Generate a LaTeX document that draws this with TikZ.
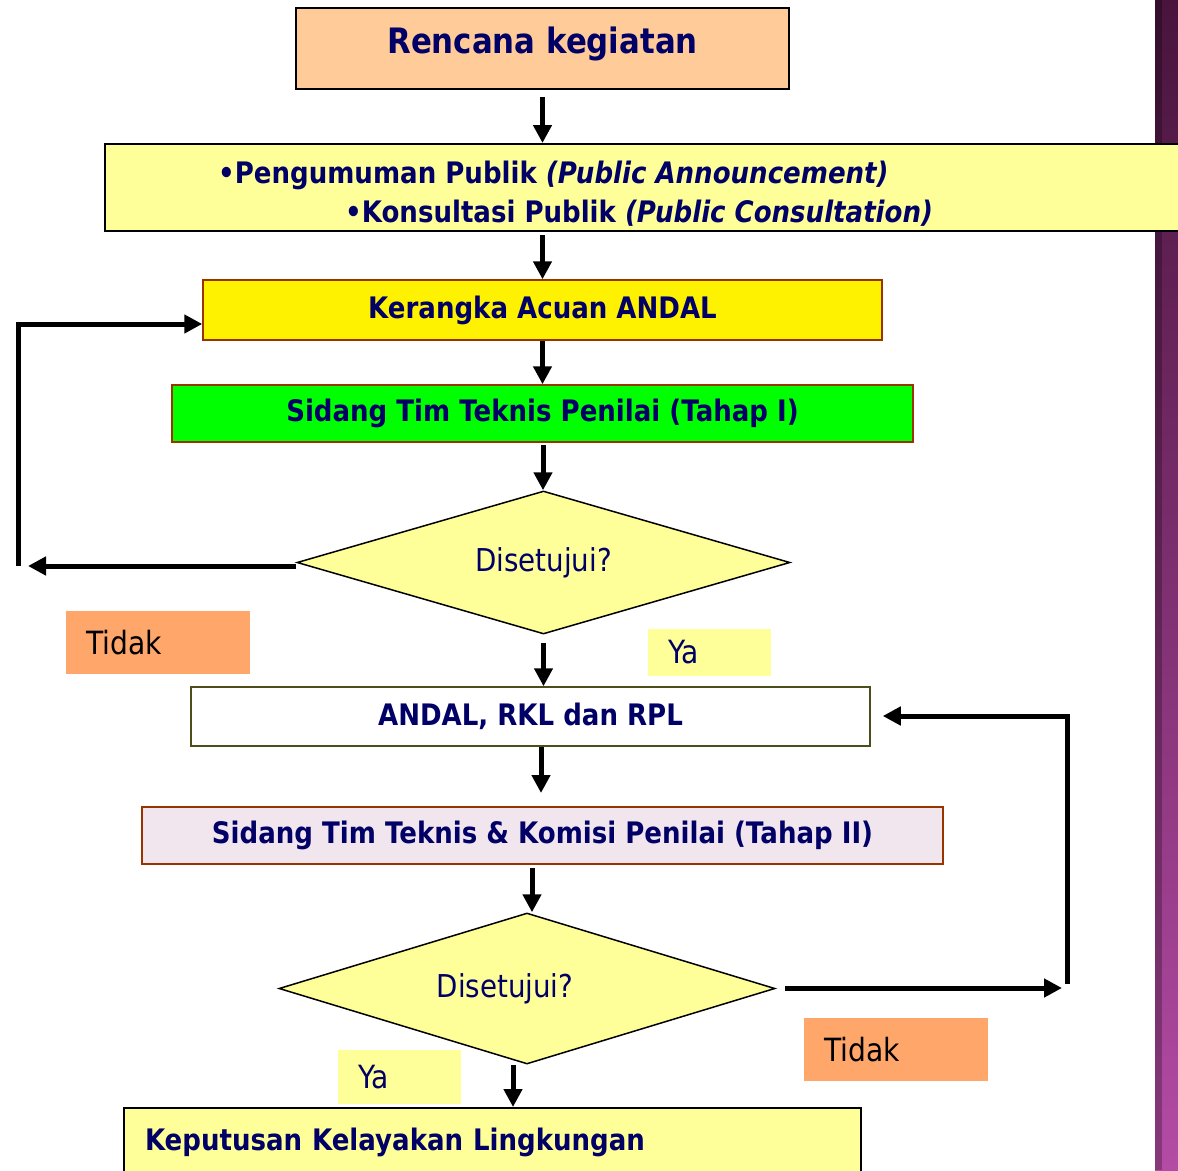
\documentclass[tikz,border=0pt]{standalone}
\usepackage{fontspec}
\setmainfont[FakeStretch=0.88]{DejaVu Sans}
\usetikzlibrary{arrows.meta,shapes.geometric}
\definecolor{navy}{RGB}{0,0,102}
\definecolor{peach}{RGB}{255,204,153}
\definecolor{lightyel}{RGB}{255,255,153}
\definecolor{brownline}{RGB}{153,51,0}
\definecolor{oliveline}{RGB}{77,77,26}
\definecolor{blush}{RGB}{242,230,238}
\definecolor{salmon}{RGB}{255,166,107}
\definecolor{stripTop}{RGB}{72,20,60}
\definecolor{stripBot}{RGB}{180,75,165}
\begin{document}
\begin{tikzpicture}[x=1pt,y=-1pt,
  box/.style={draw, line width=1.5pt, text=navy, inner sep=0pt,
    font=\bfseries\fontsize{29.6}{34}\selectfont},
  dia/.style={diamond, aspect=3.5, draw=black, line width=1.5pt, fill=lightyel, text=navy, inner sep=0pt,
    font=\fontsize{31.5}{34}\selectfont},
  lab/.style={fill=#1, inner sep=0pt, inner xsep=20pt, align=left,
    font=\fontsize{32}{34}\selectfont},
  arr/.style={line width=5pt, -{Triangle[length=18pt,width=18pt]}},
  seg/.style={line width=5pt}]
\clip (0,0) rectangle (1178,1170);
\fill[white] (0,0) rectangle (1178,1170);
% right strip
\shade[top color=stripTop, bottom color=stripBot] (1155,0) rectangle (1178,1170);
\fill[black, opacity=0.25] (1155,0) rectangle (1162,1170);

% boxes
\node[box, fill=peach, minimum width=493pt, minimum height=81pt, text height=25pt, text depth=16pt,
  font=\bfseries\fontsize{35}{40}\selectfont] (b1) at (542.5,48.5) {Rencana kegiatan};
\node[box, fill=lightyel, minimum width=1085pt, minimum height=87pt, line width=2pt] (b2) at (647.5,187.5) {};
\node[text=navy, anchor=west, inner sep=0pt, font=\bfseries\fontsize{29.6}{34}\selectfont] (b2a) at (218,175)
  {•Pengumuman Publik \textit{(Public Announcement)}};
\node[text=navy, anchor=west, inner sep=0pt, font=\bfseries\fontsize{29.6}{34}\selectfont] (b2b) at (345,213)
  {•Konsultasi Publik \textit{(Public Consultation)}};
\node[box, fill=yellow, draw=brownline, minimum width=679pt, minimum height=60pt] (b3) at (542.5,310) {\raisebox{-2pt}{Kerangka Acuan ANDAL}};
\node[box, fill=green, draw=brownline, minimum width=741pt, minimum height=57pt] (b4) at (542.5,413.5) {Sidang Tim Teknis Penilai (Tahap I)};
\node[dia, minimum width=493pt, minimum height=143pt] (d1) at (543.5,562.5) {Disetujui?};
\node[box, fill=white, draw=oliveline, minimum width=679pt, minimum height=59pt] (b5) at (530.5,716.5) {ANDAL, RKL dan RPL};
\node[box, fill=blush, draw=brownline, minimum width=801pt, minimum height=57pt] (b6) at (542.5,835.5) {Sidang Tim Teknis \& Komisi Penilai (Tahap II)};
\node[dia, minimum width=496pt, minimum height=151pt] (d2) at (527,988.5) {Disetujui?\hspace*{44pt}};
\node[box, fill=lightyel, line width=2pt, minimum width=737pt, minimum height=82pt,
  text height=22pt, text depth=20pt,
  align=left, text width=695pt, inner xsep=21pt] (b7) at (492.5,1149)
  {Keputusan Kelayakan Lingkungan};

% labels
\node[lab=salmon, minimum width=184pt, minimum height=63pt, text width=144pt] (t1) at (158,642.5) {Tidak};
\node[lab=lightyel, minimum width=123pt, minimum height=47pt, text width=83pt, text=navy] (y1) at (709.5,652.5) {\raisebox{-3pt}{Ya}};
\node[lab=salmon, minimum width=184pt, minimum height=63pt, text width=144pt] (t2) at (896,1049.5) {Tidak};
\node[lab=lightyel, minimum width=123pt, minimum height=54pt, text width=83pt, text=navy] (y2) at (399.5,1077) {Ya};

% vertical arrows
\draw[arr] ([yshift=-7pt]b1.south) -- (b1.south |- b2.north);
\draw[arr] (b1.south |- 0,235) -- (b3.north);
\draw[arr] (b3.south) -- (b4.north);
\coordinate (c4) at (543,445);
\draw[arr] (c4) -- (c4 |- d1.north);
\draw[arr] ([yshift=-8pt]d1.south) -- (d1.south |- b5.north);
\coordinate (c6) at (541,793);
\draw[arr] (b5.south -| c6) -- (c6);
\coordinate (c7) at (532,868);
\draw[arr] (c7) -- (c7 |- d2.north);
\coordinate (c8) at (513,1108);
\draw[arr] (c8 |- d2.south) -- (b7.north -| c8);

% left loop
\coordinate (l1) at (28,566);
\coordinate (l2) at (18,566);
\coordinate (l3) at (18,324);
\draw[arr] (d1.west |- l1) -- (l1);
\draw[arr] (l2) -- (l3) -- (l3 -| b3.west);

% right loop
\coordinate (r1) at (785,988);
\coordinate (r2) at (1062,988);
\coordinate (r3) at (1067,984);
\coordinate (r4) at (1067,716);
\draw[arr] (r1) -- (r2);
\draw[arr] (r3) -- (r4) -- ([xshift=12pt]b5.east |- r4);
\end{tikzpicture}
\end{document}
